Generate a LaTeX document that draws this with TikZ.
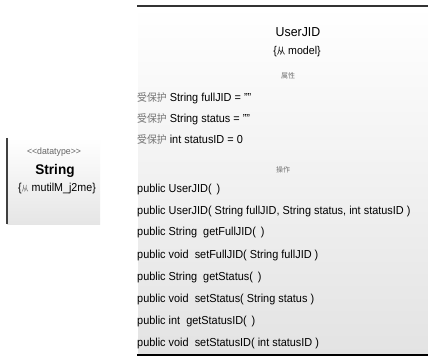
\documentclass[tikz,border=0pt]{standalone}
\usepackage{fontspec}
\setmainfont{Liberation Sans}
\newfontfamily\cjk{Noto Sans CJK SC}
\begin{document}
\begin{tikzpicture}[x=1pt,y=-1pt,
  line/.style={anchor=west,inner sep=0pt,font=\fontsize{11.6}{12}\selectfont,xscale=0.94},
  sect/.style={inner sep=0pt,text=black!55,font=\cjk\fontsize{7}{8}\selectfont},
  prot/.style={}]
\newcommand{\protword}{{\cjk\fontsize{10.5}{11}\selectfont\color{black!55}受保护}}
\useasboundingbox (0,0) rectangle (428,358);
\fill[white] (0,0) rectangle (428,358);
% left box
\shade[top color=white,bottom color=black!10] (7,138) rectangle (100,224);
\draw[black!75,line width=1.2pt] (7,138) -- (7,224);
\node[inner sep=0pt,text=black!60,font=\fontsize{9.2}{10}\selectfont,xscale=0.95] (st) at (54,152) {<{}<datatype>{}>};
\node[inner sep=0pt,font=\bfseries\fontsize{14}{15}\selectfont,xscale=0.97] (sn) at (55,171) {String};
\node[inner sep=0pt,font=\fontsize{11.5}{12}\selectfont,xscale=0.93] (sp) at (57,189) {\{{\cjk\fontsize{7.5}{8}\selectfont\color{black!60}从} mutilM\_j2me\}};
% big box
\shade[top color=white,bottom color=black!11] (138,6) rectangle (428,355);
\draw[black!80,line width=1.3pt] (137,6) -- (428,6);
\draw[black,line width=2pt] (137,355) -- (428,355);
\node[inner sep=0pt,font=\fontsize{13}{14}\selectfont,xscale=0.95] (title) at (298,32) {UserJID};
\node[inner sep=0pt,font=\fontsize{11.3}{12}\selectfont,xscale=0.94] (pkg) at (297,52) {\{{\cjk\fontsize{9}{10}\selectfont 从} model\}};
\node[sect] (attr) at (288,76) {属性};
\node[line] (a1) at (137,98) {\protword{} String fullJID = ""};
\node[line] (a2) at (137,119) {\protword{} String status = ""};
\node[line] (a3) at (137,140) {\protword{} int statusID = 0};
\node[sect] (ops) at (283,170) {操作};
\node[line] (o1) at (137,190) {public UserJID( \,)};
\node[line] (o2) at (137,211.5) {public UserJID( String fullJID, String status, int statusID )};
\node[line] (o3) at (137,233) {public String \ getFullJID( \,)};
\node[line] (o4) at (137,255) {public void \ setFullJID( String fullJID )};
\node[line] (o5) at (137,277) {public String \ getStatus( \,)};
\node[line] (o6) at (137,299) {public void \ setStatus( String status )};
\node[line] (o7) at (137,321) {public int \ getStatusID( \,)};
\node[line] (o8) at (137,343) {public void \ setStatusID( int statusID )};
\end{tikzpicture}
\end{document}
